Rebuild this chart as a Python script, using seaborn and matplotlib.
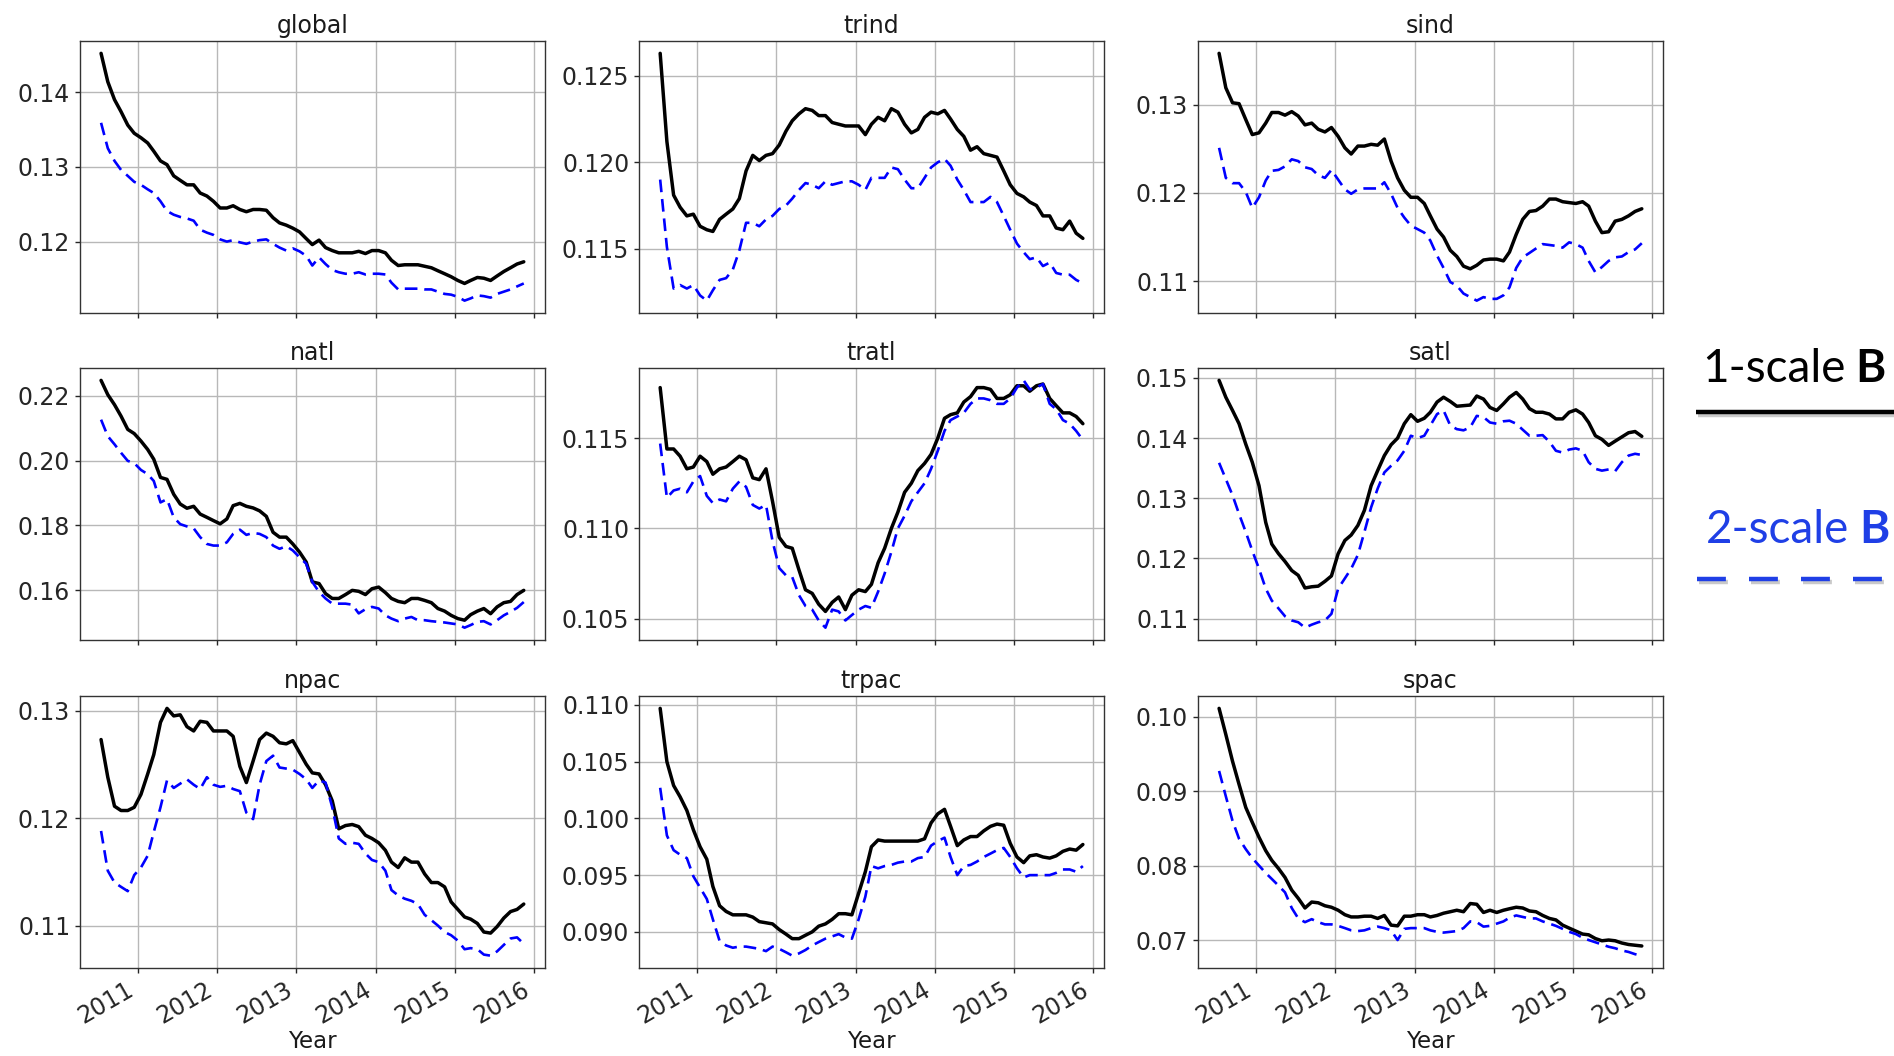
import numpy as np
import pandas as pd
import matplotlib
matplotlib.use("Agg")
import matplotlib.pyplot as plt
import matplotlib.dates as mdates
import matplotlib.ticker as mticker
import matplotlib.patheffects as pe
from matplotlib.lines import Line2D
import seaborn as sns

# Monthly time axis: mid-July 2010 .. mid-November 2015
dates = pd.date_range("2010-07-01", periods=65, freq="MS") + pd.Timedelta(days=14)

regions = ["global", "trind", "sind", "natl", "tratl", "satl", "npac", "trpac", "spac"]

global_1scale = [0.1452, 0.1414, 0.1390, 0.1374, 0.1356, 0.1345, 0.1339, 0.1332, 0.1321, 0.1308,
                 0.1303, 0.1288, 0.1282, 0.1276, 0.1276, 0.1265, 0.1261, 0.1254, 0.1245, 0.1245,
                 0.1248, 0.1243, 0.1240, 0.1243, 0.1243, 0.1242, 0.1232, 0.1225, 0.1222, 0.1218,
                 0.1213, 0.1204, 0.1196, 0.1202, 0.1192, 0.1188, 0.1185, 0.1185, 0.1185, 0.1187,
                 0.1184, 0.1188, 0.1188, 0.1185, 0.1175, 0.1168, 0.1169, 0.1169, 0.1169, 0.1167,
                 0.1165, 0.1161, 0.1157, 0.1153, 0.1148, 0.1144, 0.1148, 0.1152, 0.1151, 0.1148,
                 0.1154, 0.1160, 0.1165, 0.1170, 0.1173]
global_2scale = [0.1359, 0.1325, 0.1308, 0.1296, 0.1288, 0.1280, 0.1276, 0.1270, 0.1265, 0.1254,
                 0.1241, 0.1236, 0.1233, 0.1231, 0.1228, 0.1216, 0.1212, 0.1209, 0.1203, 0.1200,
                 0.1202, 0.1199, 0.1197, 0.1200, 0.1202, 0.1203, 0.1197, 0.1192, 0.1188, 0.1191,
                 0.1187, 0.1181, 0.1168, 0.1179, 0.1170, 0.1162, 0.1159, 0.1157, 0.1157, 0.1159,
                 0.1156, 0.1157, 0.1157, 0.1156, 0.1145, 0.1136, 0.1137, 0.1137, 0.1137, 0.1136,
                 0.1136, 0.1133, 0.1130, 0.1129, 0.1126, 0.1121, 0.1124, 0.1128, 0.1127, 0.1125,
                 0.1130, 0.1133, 0.1136, 0.1140, 0.1144]

trind_1scale = [0.1263, 0.1212, 0.1181, 0.1174, 0.1169, 0.1170, 0.1163, 0.1161, 0.1160, 0.1167,
                0.1170, 0.1173, 0.1179, 0.1195, 0.1204, 0.1201, 0.1204, 0.1205, 0.1210, 0.1218,
                0.1224, 0.1228, 0.1231, 0.1230, 0.1227, 0.1227, 0.1223, 0.1222, 0.1221, 0.1221,
                0.1221, 0.1216, 0.1222, 0.1226, 0.1224, 0.1231, 0.1229, 0.1222, 0.1217, 0.1219,
                0.1226, 0.1229, 0.1228, 0.1230, 0.1225, 0.1219, 0.1215, 0.1207, 0.1209, 0.1205,
                0.1204, 0.1203, 0.1195, 0.1187, 0.1182, 0.1180, 0.1177, 0.1175, 0.1169, 0.1169,
                0.1162, 0.1161, 0.1166, 0.1159, 0.1156]
trind_2scale = [0.1190, 0.1151, 0.1127, 0.1129, 0.1127, 0.1129, 0.1123, 0.1120, 0.1126, 0.1132,
                0.1133, 0.1138, 0.1149, 0.1165, 0.1165, 0.1163, 0.1167, 0.1169, 0.1173, 0.1175,
                0.1179, 0.1184, 0.1188, 0.1187, 0.1185, 0.1189, 0.1187, 0.1188, 0.1189, 0.1189,
                0.1187, 0.1184, 0.1191, 0.1191, 0.1191, 0.1197, 0.1196, 0.1190, 0.1185, 0.1185,
                0.1191, 0.1197, 0.1200, 0.1202, 0.1198, 0.1190, 0.1184, 0.1177, 0.1177, 0.1177,
                0.1180, 0.1177, 0.1169, 0.1161, 0.1153, 0.1148, 0.1144, 0.1145, 0.1140, 0.1142,
                0.1136, 0.1135, 0.1135, 0.1132, 0.1130]

sind_1scale = [0.1358, 0.1319, 0.1302, 0.1301, 0.1283, 0.1266, 0.1268, 0.1279, 0.1291, 0.1291,
               0.1288, 0.1292, 0.1287, 0.1277, 0.1279, 0.1272, 0.1269, 0.1274, 0.1264, 0.1251,
               0.1244, 0.1253, 0.1253, 0.1255, 0.1254, 0.1261, 0.1236, 0.1217, 0.1203, 0.1195,
               0.1195, 0.1188, 0.1174, 0.1159, 0.1150, 0.1135, 0.1128, 0.1117, 0.1114, 0.1118,
               0.1124, 0.1125, 0.1125, 0.1123, 0.1133, 0.1153, 0.1170, 0.1179, 0.1180, 0.1185,
               0.1193, 0.1193, 0.1190, 0.1189, 0.1188, 0.1190, 0.1185, 0.1168, 0.1155, 0.1156,
               0.1168, 0.1170, 0.1174, 0.1179, 0.1182]
sind_2scale = [0.1251, 0.1217, 0.1211, 0.1211, 0.1201, 0.1183, 0.1195, 0.1214, 0.1225, 0.1226,
               0.1230, 0.1238, 0.1236, 0.1229, 0.1227, 0.1220, 0.1217, 0.1226, 0.1215, 0.1204,
               0.1199, 0.1204, 0.1205, 0.1205, 0.1205, 0.1212, 0.1199, 0.1183, 0.1172, 0.1163,
               0.1159, 0.1155, 0.1146, 0.1129, 0.1115, 0.1099, 0.1095, 0.1086, 0.1082, 0.1078,
               0.1082, 0.1080, 0.1080, 0.1084, 0.1093, 0.1115, 0.1127, 0.1132, 0.1137, 0.1142,
               0.1141, 0.1140, 0.1138, 0.1144, 0.1142, 0.1138, 0.1123, 0.1110, 0.1116, 0.1123,
               0.1127, 0.1128, 0.1133, 0.1136, 0.1143]

natl_1scale = [0.2247, 0.2203, 0.2172, 0.2137, 0.2096, 0.2083, 0.2060, 0.2034, 0.2004, 0.1948,
               0.1942, 0.1896, 0.1866, 0.1853, 0.1859, 0.1835, 0.1825, 0.1815, 0.1805, 0.1820,
               0.1861, 0.1868, 0.1859, 0.1854, 0.1845, 0.1828, 0.1779, 0.1764, 0.1764, 0.1743,
               0.1718, 0.1687, 0.1626, 0.1621, 0.1590, 0.1575, 0.1575, 0.1587, 0.1600, 0.1597,
               0.1587, 0.1605, 0.1610, 0.1593, 0.1575, 0.1566, 0.1562, 0.1575, 0.1575, 0.1569,
               0.1562, 0.1544, 0.1536, 0.1523, 0.1513, 0.1508, 0.1525, 0.1536, 0.1544, 0.1528,
               0.1549, 0.1562, 0.1566, 0.1587, 0.1600]
natl_2scale = [0.2126, 0.2075, 0.2050, 0.2024, 0.1999, 0.1992, 0.1971, 0.1958, 0.1937, 0.1871,
               0.1881, 0.1825, 0.1804, 0.1797, 0.1791, 0.1764, 0.1743, 0.1738, 0.1738, 0.1748,
               0.1774, 0.1787, 0.1771, 0.1777, 0.1774, 0.1764, 0.1738, 0.1728, 0.1736, 0.1723,
               0.1702, 0.1682, 0.1626, 0.1595, 0.1575, 0.1559, 0.1559, 0.1559, 0.1556, 0.1529,
               0.1542, 0.1549, 0.1544, 0.1523, 0.1513, 0.1505, 0.1513, 0.1518, 0.1508, 0.1508,
               0.1505, 0.1503, 0.1501, 0.1498, 0.1495, 0.1485, 0.1493, 0.1503, 0.1505, 0.1495,
               0.1508, 0.1523, 0.1534, 0.1546, 0.1564]

tratl_1scale = [0.1178, 0.1144, 0.1144, 0.1140, 0.1133, 0.1134, 0.1140, 0.1137, 0.1130, 0.1133,
                0.1134, 0.1137, 0.1140, 0.1138, 0.1128, 0.1127, 0.1133, 0.1115, 0.1095, 0.1090,
                0.1089, 0.1077, 0.1066, 0.1064, 0.1058, 0.1054, 0.1059, 0.1062, 0.1055, 0.1063,
                0.1066, 0.1065, 0.1069, 0.1081, 0.1089, 0.1100, 0.1109, 0.1120, 0.1125, 0.1132,
                0.1136, 0.1141, 0.1150, 0.1161, 0.1163, 0.1164, 0.1170, 0.1173, 0.1178, 0.1178,
                0.1177, 0.1172, 0.1172, 0.1174, 0.1179, 0.1179, 0.1176, 0.1179, 0.1180, 0.1172,
                0.1168, 0.1164, 0.1164, 0.1162, 0.1158]
tratl_2scale = [0.1147, 0.1117, 0.1121, 0.1122, 0.1120, 0.1126, 0.1129, 0.1118, 0.1114, 0.1116,
                0.1115, 0.1122, 0.1126, 0.1123, 0.1113, 0.1111, 0.1113, 0.1093, 0.1078, 0.1074,
                0.1073, 0.1063, 0.1057, 0.1055, 0.1049, 0.1045, 0.1055, 0.1054, 0.1049, 0.1052,
                0.1055, 0.1057, 0.1056, 0.1065, 0.1075, 0.1087, 0.1100, 0.1107, 0.1115, 0.1120,
                0.1125, 0.1133, 0.1143, 0.1154, 0.1160, 0.1162, 0.1164, 0.1169, 0.1172, 0.1172,
                0.1171, 0.1169, 0.1169, 0.1172, 0.1178, 0.1182, 0.1177, 0.1178, 0.1180, 0.1169,
                0.1166, 0.1160, 0.1158, 0.1154, 0.1149]

satl_1scale = [0.1496, 0.1468, 0.1446, 0.1424, 0.1390, 0.1360, 0.1321, 0.1260, 0.1224, 0.1208,
               0.1195, 0.1180, 0.1172, 0.1151, 0.1153, 0.1154, 0.1162, 0.1171, 0.1208, 0.1230,
               0.1239, 0.1255, 0.1280, 0.1321, 0.1346, 0.1371, 0.1389, 0.1400, 0.1424, 0.1439,
               0.1428, 0.1433, 0.1443, 0.1460, 0.1468, 0.1461, 0.1453, 0.1454, 0.1455, 0.1470,
               0.1465, 0.1451, 0.1446, 0.1457, 0.1468, 0.1476, 0.1465, 0.1449, 0.1443, 0.1443,
               0.1440, 0.1432, 0.1432, 0.1443, 0.1447, 0.1440, 0.1426, 0.1404, 0.1398, 0.1388,
               0.1395, 0.1402, 0.1409, 0.1411, 0.1403]
satl_2scale = [0.1359, 0.1332, 0.1305, 0.1274, 0.1244, 0.1213, 0.1183, 0.1150, 0.1130, 0.1117,
               0.1104, 0.1097, 0.1094, 0.1085, 0.1090, 0.1094, 0.1097, 0.1108, 0.1150, 0.1167,
               0.1183, 0.1206, 0.1244, 0.1285, 0.1316, 0.1343, 0.1354, 0.1363, 0.1379, 0.1404,
               0.1400, 0.1404, 0.1421, 0.1440, 0.1446, 0.1421, 0.1415, 0.1413, 0.1418, 0.1437,
               0.1435, 0.1426, 0.1424, 0.1428, 0.1429, 0.1424, 0.1414, 0.1404, 0.1404, 0.1405,
               0.1394, 0.1379, 0.1376, 0.1381, 0.1383, 0.1379, 0.1360, 0.1349, 0.1346, 0.1348,
               0.1345, 0.1360, 0.1371, 0.1374, 0.1372]

npac_1scale = [0.1273, 0.1238, 0.1211, 0.1207, 0.1207, 0.1210, 0.1222, 0.1241, 0.1259, 0.1289,
               0.1302, 0.1295, 0.1296, 0.1285, 0.1281, 0.1290, 0.1289, 0.1281, 0.1281, 0.1281,
               0.1276, 0.1248, 0.1233, 0.1253, 0.1273, 0.1279, 0.1276, 0.1270, 0.1269, 0.1272,
               0.1261, 0.1250, 0.1242, 0.1241, 0.1231, 0.1216, 0.1190, 0.1193, 0.1194, 0.1192,
               0.1184, 0.1181, 0.1177, 0.1170, 0.1159, 0.1154, 0.1163, 0.1159, 0.1159, 0.1148,
               0.1140, 0.1140, 0.1136, 0.1122, 0.1115, 0.1108, 0.1106, 0.1102, 0.1094, 0.1093,
               0.1099, 0.1107, 0.1113, 0.1115, 0.1120]
npac_2scale = [0.1188, 0.1151, 0.1140, 0.1136, 0.1132, 0.1147, 0.1154, 0.1165, 0.1187, 0.1210,
               0.1235, 0.1228, 0.1232, 0.1236, 0.1231, 0.1227, 0.1238, 0.1231, 0.1229, 0.1230,
               0.1227, 0.1225, 0.1205, 0.1199, 0.1231, 0.1253, 0.1258, 0.1247, 0.1246, 0.1245,
               0.1241, 0.1236, 0.1228, 0.1235, 0.1233, 0.1210, 0.1181, 0.1176, 0.1177, 0.1176,
               0.1167, 0.1161, 0.1159, 0.1151, 0.1133, 0.1128, 0.1125, 0.1123, 0.1120, 0.1110,
               0.1105, 0.1100, 0.1094, 0.1091, 0.1086, 0.1078, 0.1079, 0.1078, 0.1073, 0.1072,
               0.1076, 0.1082, 0.1088, 0.1089, 0.1083]

trpac_1scale = [0.1097, 0.1050, 0.1029, 0.1019, 0.1007, 0.0990, 0.0975, 0.0964, 0.0940, 0.0923,
                0.0918, 0.0915, 0.0915, 0.0915, 0.0913, 0.0909, 0.0908, 0.0907, 0.0902, 0.0898,
                0.0894, 0.0894, 0.0897, 0.0900, 0.0905, 0.0907, 0.0911, 0.0916, 0.0916, 0.0915,
                0.0934, 0.0953, 0.0975, 0.0981, 0.0980, 0.0980, 0.0980, 0.0980, 0.0980, 0.0980,
                0.0982, 0.0996, 0.1004, 0.1008, 0.0993, 0.0976, 0.0981, 0.0984, 0.0984, 0.0989,
                0.0993, 0.0995, 0.0994, 0.0978, 0.0966, 0.0961, 0.0967, 0.0968, 0.0966, 0.0965,
                0.0967, 0.0971, 0.0973, 0.0972, 0.0977]
trpac_2scale = [0.1027, 0.0985, 0.0972, 0.0968, 0.0965, 0.0949, 0.0939, 0.0929, 0.0911, 0.0892,
                0.0888, 0.0886, 0.0887, 0.0887, 0.0886, 0.0885, 0.0883, 0.0887, 0.0885, 0.0882,
                0.0879, 0.0881, 0.0884, 0.0888, 0.0891, 0.0894, 0.0896, 0.0898, 0.0895, 0.0894,
                0.0911, 0.0931, 0.0958, 0.0956, 0.0958, 0.0959, 0.0961, 0.0962, 0.0962, 0.0965,
                0.0966, 0.0976, 0.0980, 0.0983, 0.0966, 0.0950, 0.0958, 0.0959, 0.0962, 0.0966,
                0.0969, 0.0972, 0.0974, 0.0966, 0.0956, 0.0948, 0.0950, 0.0950, 0.0950, 0.0950,
                0.0952, 0.0955, 0.0955, 0.0953, 0.0958]

spac_1scale = [0.1011, 0.0976, 0.0940, 0.0909, 0.0878, 0.0858, 0.0838, 0.0820, 0.0807, 0.0796,
               0.0784, 0.0767, 0.0756, 0.0743, 0.0751, 0.0750, 0.0746, 0.0744, 0.0740, 0.0734,
               0.0731, 0.0731, 0.0732, 0.0732, 0.0729, 0.0733, 0.0720, 0.0719, 0.0732, 0.0732,
               0.0734, 0.0734, 0.0731, 0.0733, 0.0736, 0.0738, 0.0740, 0.0738, 0.0749, 0.0748,
               0.0737, 0.0740, 0.0737, 0.0740, 0.0742, 0.0744, 0.0743, 0.0739, 0.0738, 0.0733,
               0.0729, 0.0727, 0.0720, 0.0716, 0.0712, 0.0708, 0.0707, 0.0702, 0.0699, 0.0700,
               0.0699, 0.0696, 0.0694, 0.0693, 0.0692]
spac_2scale = [0.0927, 0.0893, 0.0860, 0.0836, 0.0822, 0.0810, 0.0800, 0.0790, 0.0782, 0.0773,
               0.0764, 0.0743, 0.0729, 0.0724, 0.0728, 0.0724, 0.0721, 0.0721, 0.0719, 0.0716,
               0.0713, 0.0712, 0.0713, 0.0716, 0.0718, 0.0716, 0.0713, 0.0700, 0.0715, 0.0716,
               0.0716, 0.0716, 0.0713, 0.0711, 0.0710, 0.0711, 0.0712, 0.0716, 0.0725, 0.0724,
               0.0718, 0.0719, 0.0722, 0.0725, 0.0730, 0.0733, 0.0731, 0.0729, 0.0729, 0.0725,
               0.0722, 0.0719, 0.0715, 0.0711, 0.0708, 0.0703, 0.0700, 0.0697, 0.0694, 0.0691,
               0.0689, 0.0686, 0.0684, 0.0681, 0.0679]

series = {
    "global": (global_1scale, global_2scale),
    "trind": (trind_1scale, trind_2scale),
    "sind": (sind_1scale, sind_2scale),
    "natl": (natl_1scale, natl_2scale),
    "tratl": (tratl_1scale, tratl_2scale),
    "satl": (satl_1scale, satl_2scale),
    "npac": (npac_1scale, npac_2scale),
    "trpac": (trpac_1scale, trpac_2scale),
    "spac": (spac_1scale, spac_2scale),
}

# y tick spacing for each region panel
ytick_step = {"global": 0.01, "trind": 0.005, "sind": 0.01,
              "natl": 0.02, "tratl": 0.005, "satl": 0.01,
              "npac": 0.01, "trpac": 0.005, "spac": 0.01}

legend_labels = ["1-scale", "2-scale"]
legend_bold = "B"
legend_blue = "#1f3fe6"

sns.set_theme(style="whitegrid", rc={
    "axes.edgecolor": "0.2",
    "axes.linewidth": 1.0,
    "grid.color": "#b8b8b8",
    "grid.linewidth": 1.0,
    "xtick.bottom": True,
    "ytick.left": True,
    "xtick.major.size": 3.5,
    "ytick.major.size": 3.5,
    "xtick.major.width": 1.0,
    "ytick.major.width": 1.0,
    "xtick.major.pad": 3.5,
    "ytick.major.pad": 3.5,
    "xtick.color": "0.15",
    "ytick.color": "0.15",
    "font.size": 17,
    "axes.titlesize": 17,
    "axes.labelsize": 16.5,
    "xtick.labelsize": 17,
    "ytick.labelsize": 17,
    "text.color": "0.1",
    "axes.labelcolor": "0.1",
})
plt.rcParams["font.family"] = ["DejaVu Sans"]

fig = plt.figure(figsize=(18.94, 10.56), dpi=100)

col_left = [0.0422, 0.3374, 0.6325]
row_bottom = [0.7036, 0.3939, 0.0833]
ax_w, ax_h = 0.2455, 0.2576

first = None
for k, name in enumerate(regions):
    r, c = divmod(k, 3)
    ax = fig.add_axes([col_left[c], row_bottom[r], ax_w, ax_h], sharex=first)
    if first is None:
        first = ax
    one, two = series[name]
    df = pd.DataFrame({"date": dates, "one": one, "two": two})
    sns.lineplot(data=df, x="date", y="one", ax=ax, color="black", linewidth=2.5)
    sns.lineplot(data=df, x="date", y="two", ax=ax, color="blue", linewidth=1.9,
                 dashes=False, linestyle=(0, (4.8, 2.6)))
    ax.set_title(name, color="0.1")
    ax.set_ylabel("")
    ax.grid(True, which="major")
    for s in ax.spines.values():
        s.set_visible(True)
    ax.yaxis.set_major_locator(mticker.MultipleLocator(ytick_step[name]))
    ax.xaxis.set_major_locator(mdates.YearLocator())
    ax.xaxis.set_major_formatter(mdates.DateFormatter("%Y"))
    if r < 2:
        ax.tick_params(axis="x", labelbottom=False)
        ax.set_xlabel("")
    else:
        ax.set_xlabel("Year", labelpad=1)
        for lab in ax.get_xticklabels():
            lab.set_rotation(30)
            lab.set_ha("right")

# Side legend drawn as large slide-style captions
W, H = 1894.0, 1056.0
shadow = [pe.SimpleLineShadow(offset=(1.5, -2.0), shadow_color="0.4", alpha=0.35), pe.Normal()]
fam = ["Lato", "DejaVu Sans"]
renderer = fig.canvas.get_renderer()
for label, color, x0, ybase in [(legend_labels[0], "black", 1702, 382),
                                (legend_labels[1], legend_blue, 1706, 543)]:
    t = fig.text(x0 / W, 1 - ybase / H, label, fontsize=33, color=color,
                 family=fam, va="baseline", ha="left")
    x1 = t.get_window_extent(renderer).x1
    fig.text((x1 + 10) / W, 1 - ybase / H, legend_bold, fontsize=33, color=color,
             family=fam, weight="bold", va="baseline", ha="left")

fig.add_artist(Line2D([1696 / W, 1.05], [1 - 412 / H] * 2, transform=fig.transFigure,
                      color="black", linewidth=3.2, solid_capstyle="butt",
                      path_effects=shadow))
fig.add_artist(Line2D([1697 / W, 1.05], [1 - 579 / H] * 2, transform=fig.transFigure,
                      color=legend_blue, linewidth=3.2, dashes=(6.5, 5.2),
                      dash_capstyle="butt", path_effects=shadow))

fig.savefig("out.png", dpi=100, facecolor="white")
